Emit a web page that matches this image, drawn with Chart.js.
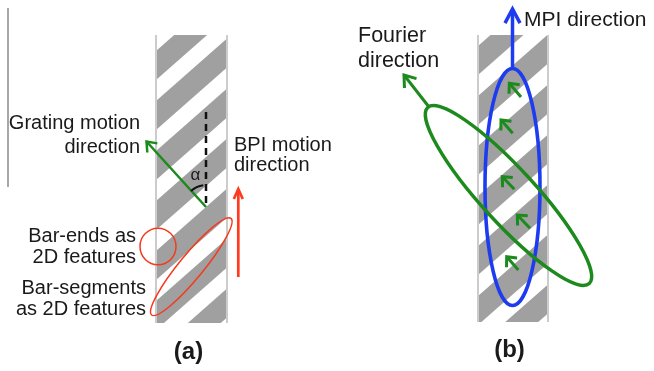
<!DOCTYPE html>
<html>
<head>
<meta charset="utf-8">
<script src="https://cdn.jsdelivr.net/npm/chart.js@4.4.1/dist/chart.umd.min.js"></script>
<style>
  html, body { margin: 0; padding: 0; background: #ffffff; }
  canvas { display: block; }
</style>
</head>
<body>
<canvas id="fig" width="654" height="371"></canvas>
<script>
// ---- geometry of the two grating panels (figure units: x right, y down) ----

// Grating strips: left, right, top, bottom
const stripFrames = [[156, 227, 35, 323], [478, 548, 35, 322]];
// Diagonal bars: first bar top on the strip's left edge, spacing, depth, rise per unit x
const barStart = [51, 46];
const barSpacing = 50;
const barDepth = 29;
const barRise = 0.88;

// Straight strokes: [from, to]
const ruleLine = [[8, 8], [8, 187]];
const verticalRef = [[206, 112], [206, 207]];
const gratingArrow = [[206, 207], [146.5, 141.5]];
const bpiArrow = [[238.3, 277], [238.3, 189]];
const mpiArrow = [[512.5, 68], [512.5, 9]];
const fourierArrow = [[429, 107], [404, 75]];
const localArrows = [
  [[521, 97], [509.3, 83.3]],
  [[512.7, 133.3], [501, 120]],
  [[514.3, 189.3], [502.3, 176.7]],
  [[530, 228.3], [517.3, 215]],
  [[518.3, 270], [506.7, 256.7]]
];

// Outlines: centre x, centre y, radius x, radius y, rotation (deg)
const barEndCircle = [158, 246.5, 18, 18.3, 0];
const barSegmentEllipse = [191.3, 266.7, 62.5, 12, -50.6];
const mpiEllipse = [512.5, 187, 27.5, 118.5, 0];
const fourierEllipse = [508.5, 195.5, 119.5, 27, 47.5];

// Angle mark between the grating direction and the vertical
const alphaArc = [206, 207, 22, -133, -97];

// Text
const labelTexts = ['Grating motion', 'direction', 'BPI motion', 'direction',
  'Bar-ends as', '2D features', 'Bar-segments', 'as 2D features', 'α', '(a)',
  'Fourier', 'direction', 'MPI direction', '(b)'];
const labelSpots = [[140, 129], [140, 153], [234, 150.5], [234, 170.5],
  [136, 242], [136, 263], [146, 294], [146, 315], [195.5, 179.5], [188.5, 359],
  [358, 42], [358, 67], [524, 26], [509.5, 357]];

const GREEN = '#1c8a1c';
const RED = '#f5391e';
const BLUE = '#1d3cf0';
const FONT = '"Liberation Sans", Arial, Helvetica, sans-serif';

const pts = seg => seg.map(p => ({ x: p[0], y: p[1] }));

function stroke(seg, color, width, extra) {
  return Object.assign({
    data: pts(seg), showLine: true, borderColor: color, borderWidth: width,
    pointRadius: 0, fill: false, tension: 0, borderCapStyle: 'butt'
  }, extra || {});
}

const datasets = [];
datasets.push(stroke(ruleLine, '#8a8a8a', 1.5));
stripFrames.forEach(f => {
  datasets.push(stroke([[f[0], f[2]], [f[0], f[3]]], '#cccccc', 2));
  datasets.push(stroke([[f[1], f[2]], [f[1], f[3]]], '#cccccc', 2));
});
datasets.push(stroke(verticalRef, '#111111', 2.5, { borderDash: [7, 5] }));
const headed = [];
function arrow(seg, color, width, len, half) {
  headed.push({ index: datasets.length, color, width, len, half });
  datasets.push(stroke(seg, color, width));
}
arrow(gratingArrow, GREEN, 2.5, 11, 38);
arrow(bpiArrow, '#ff3b1f', 2.7, 11, 24);
arrow(mpiArrow, BLUE, 3.5, 16, 28);
arrow(fourierArrow, GREEN, 3, 13, 36);
localArrows.forEach(a => arrow(a, GREEN, 3, 10.5, 42));

// draw order: first pushed on the bottom
datasets.forEach((d, i) => { d.order = datasets.length - i; });

function px(chart, x, y) {
  return [chart.scales.x.getPixelForValue(x), chart.scales.y.getPixelForValue(y)];
}

function outline(chart, ctx, e, color, width) {
  const c = px(chart, e[0], e[1]);
  const rx = Math.abs(chart.scales.x.getPixelForValue(e[0] + e[2]) - c[0]);
  const ry = Math.abs(chart.scales.y.getPixelForValue(e[1] + e[3]) - c[1]);
  ctx.save();
  ctx.beginPath();
  ctx.ellipse(c[0], c[1], rx, ry, e[4] * Math.PI / 180, 0, Math.PI * 2);
  ctx.strokeStyle = color;
  ctx.lineWidth = width;
  ctx.stroke();
  ctx.restore();
}

const figurePlugin = {
  id: 'figure',
  beforeDatasetsDraw(chart) {
    const ctx = chart.ctx;
    stripFrames.forEach((f, s) => {
      const tl = px(chart, f[0], f[2]);
      const br = px(chart, f[1], f[3]);
      ctx.save();
      ctx.beginPath();
      ctx.rect(tl[0], tl[1], br[0] - tl[0], br[1] - tl[1]);
      ctx.clip();
      ctx.fillStyle = '#a0a0a0';
      const w = f[1] - f[0];
      for (let k = -2; k < 10; k++) {
        const y0 = barStart[s] + k * barSpacing;
        const poly = [[f[0], y0], [f[1], y0 - barRise * w],
          [f[1], y0 - barRise * w + barDepth], [f[0], y0 + barDepth]].map(p => px(chart, p[0], p[1]));
        ctx.beginPath();
        ctx.moveTo(poly[0][0], poly[0][1]);
        poly.slice(1).forEach(p => ctx.lineTo(p[0], p[1]));
        ctx.closePath();
        ctx.fill();
      }
      ctx.restore();
    });
  },
  afterDatasetsDraw(chart) {
    const ctx = chart.ctx;
    // arrow heads at the end point of each arrow stroke
    headed.forEach(h => {
      const meta = chart.getDatasetMeta(h.index);
      const a = meta.data[0], b = meta.data[1];
      const ang = Math.atan2(b.y - a.y, b.x - a.x);
      const hr = h.half * Math.PI / 180;
      ctx.save();
      ctx.strokeStyle = h.color;
      ctx.lineWidth = h.width;
      ctx.lineJoin = 'miter';
      ctx.lineCap = 'butt';
      ctx.beginPath();
      ctx.moveTo(b.x - h.len * Math.cos(ang - hr), b.y - h.len * Math.sin(ang - hr));
      ctx.lineTo(b.x, b.y);
      ctx.lineTo(b.x - h.len * Math.cos(ang + hr), b.y - h.len * Math.sin(ang + hr));
      ctx.stroke();
      ctx.restore();
    });

    outline(chart, ctx, barEndCircle, RED, 1.5);
    outline(chart, ctx, barSegmentEllipse, RED, 1.5);
    outline(chart, ctx, mpiEllipse, BLUE, 3.6);
    outline(chart, ctx, fourierEllipse, GREEN, 3.4);

    // angle mark
    const c = px(chart, alphaArc[0], alphaArc[1]);
    ctx.save();
    ctx.beginPath();
    ctx.arc(c[0], c[1], alphaArc[2], alphaArc[3] * Math.PI / 180, alphaArc[4] * Math.PI / 180);
    ctx.strokeStyle = '#111111';
    ctx.lineWidth = 2;
    ctx.stroke();
    ctx.restore();

    // labels
    const aligns = ['right', 'right', 'left', 'left', 'right', 'right', 'right', 'right',
      'center', 'center', 'left', 'left', 'left', 'center'];
    const fonts = ['20px', '20px', '20px', '20px', '20px', '20px', '20px', '20px',
      '17px', 'bold 24px', '21.5px', '21.5px', '21px', 'bold 24px'];
    ctx.save();
    ctx.fillStyle = '#1a1a1a';
    ctx.textBaseline = 'alphabetic';
    labelTexts.forEach((t, i) => {
      const p = px(chart, labelSpots[i][0], labelSpots[i][1]);
      ctx.font = fonts[i] + ' ' + FONT;
      ctx.textAlign = aligns[i];
      ctx.fillText(t, p[0], p[1]);
    });
    ctx.restore();
  }
};

new Chart(document.getElementById('fig'), {
  type: 'scatter',
  data: { datasets },
  options: {
    responsive: false,
    maintainAspectRatio: false,
    devicePixelRatio: 1,
    animation: false,
    events: [],
    layout: { padding: 0 },
    scales: {
      x: { type: 'linear', min: 0, max: 654, display: false },
      y: { type: 'linear', min: 0, max: 371, reverse: true, display: false }
    },
    plugins: { legend: { display: false }, tooltip: { enabled: false } }
  },
  plugins: [figurePlugin]
});
</script>
</body>
</html>
